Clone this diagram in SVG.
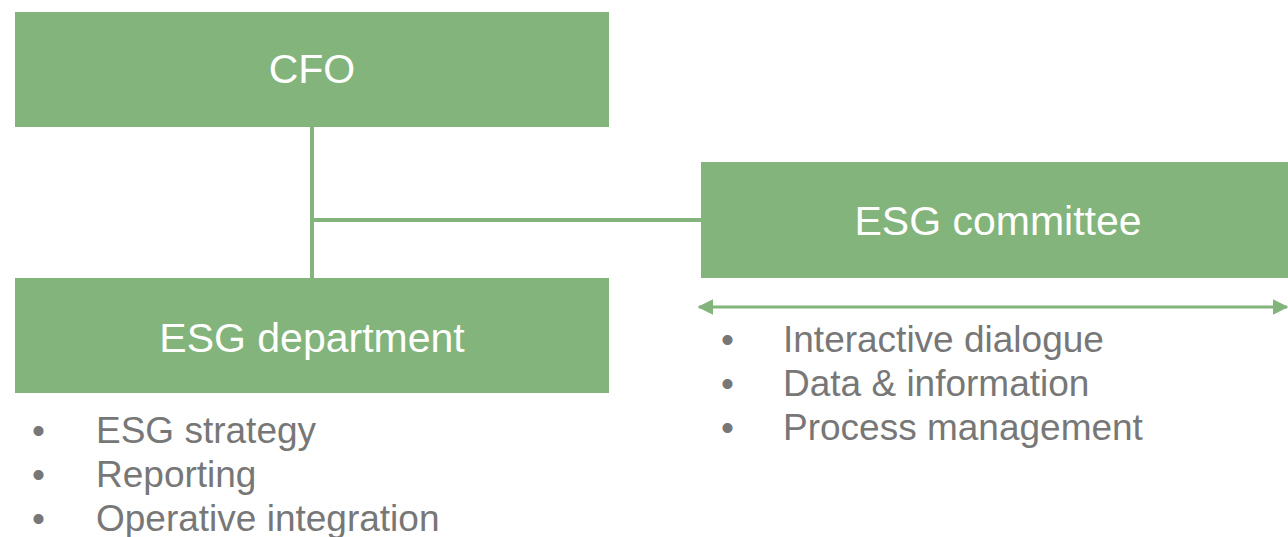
<svg xmlns="http://www.w3.org/2000/svg" width="1288" height="537" viewBox="0 0 1288 537">
  <style>
    .box { fill: #82B47B; }
    .hdr { font-family: "Liberation Sans", Arial, sans-serif; font-size: 41px; fill: #ffffff; text-anchor: middle; }
    .item { font-family: "Liberation Sans", Arial, sans-serif; font-size: 37px; fill: #777777; }
    .conn { stroke: #82B47B; stroke-width: 4; fill: none; }
    .arr { stroke: #82B47B; stroke-width: 3; fill: none; }
  </style>
  <defs>
    <marker id="ah" viewBox="0 0 10 10" refX="9" refY="5" markerWidth="16" markerHeight="16" markerUnits="userSpaceOnUse" orient="auto-start-reverse">
      <path d="M0,0 L10,5 L0,10 Z" fill="#82B47B"/>
    </marker>
  </defs>
  <rect width="1288" height="537" fill="#ffffff"/>
  <g id="connectors">
    <line class="conn" x1="312" y1="127" x2="312" y2="278"/>
    <line class="conn" x1="314" y1="220" x2="701" y2="220"/>
    <line class="arr" x1="699" y1="307" x2="1287" y2="307" marker-start="url(#ah)" marker-end="url(#ah)"/>
  </g>
  <g id="cfo">
    <rect class="box" x="15" y="12" width="594" height="115"/>
    <text class="hdr" x="312" y="83">CFO</text>
  </g>
  <g id="esg-committee">
    <rect class="box" x="701" y="162" width="587" height="116"/>
    <text class="hdr" x="998" y="235">ESG committee</text>
  </g>
  <g id="esg-department">
    <rect class="box" x="15" y="278" width="594" height="115"/>
    <text class="hdr" x="312" y="352">ESG department</text>
  </g>
  <g id="department-list">
    <text class="item" x="32" y="443">•</text><text class="item" x="96" y="443">ESG strategy</text>
    <text class="item" x="32" y="487">•</text><text class="item" x="96" y="487">Reporting</text>
    <text class="item" x="32" y="531">•</text><text class="item" x="96" y="531">Operative integration</text>
  </g>
  <g id="committee-list">
    <text class="item" x="721" y="352">•</text><text class="item" x="783" y="352">Interactive dialogue</text>
    <text class="item" x="721" y="396">•</text><text class="item" x="783" y="396">Data &amp; information</text>
    <text class="item" x="721" y="440">•</text><text class="item" x="783" y="440">Process management</text>
  </g>
</svg>
